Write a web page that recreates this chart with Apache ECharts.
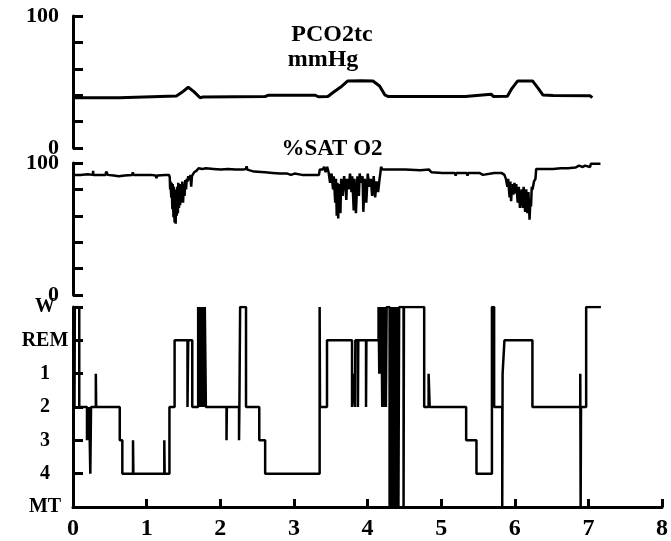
<!DOCTYPE html>
<html>
<head>
<meta charset="utf-8">
<script src="https://cdn.jsdelivr.net/npm/echarts@6/dist/echarts.min.js"></script>
<style>
html, body { margin: 0; padding: 0; background: #fff; }
#chart { width: 671px; height: 541px; }
</style>
</head>
<body>
<div id="chart"></div>
<script>
// hours of recording
var hourTicks = [0, 1, 2, 3, 4, 5, 6, 7, 8];

// transcutaneous PCO2 (mmHg)
var pco2Hours = [0, 0.63, 0.65, 1.40, 1.47, 1.56, 1.64, 1.72, 1.76, 2.60, 2.65, 3.28, 3.32, 3.45, 3.52, 3.62, 3.72, 3.90, 4.06, 4.15, 4.22, 4.27, 4.80, 5.31, 5.33, 5.66, 5.69, 5.88, 5.94, 6.02, 6.22, 6.30, 6.36, 6.50, 7.00, 7.03];
var pco2Values = [38.1, 38.1, 39.2, 39.4, 42, 46, 42.5, 38.1, 38.6, 39, 40, 40, 38.8, 39, 42, 46, 50.8, 51, 50.8, 47, 40.3, 39, 39, 39, 40.5, 40.8, 39, 39.2, 45, 50.8, 50.8, 45, 40.2, 39.8, 39.5, 38.1];

// oxygen saturation (%)
var satHours = [
    0, 0.10, 0.20, 0.27, 0.272, 0.275, 0.35, 0.44, 0.45, 0.46, 0.47, 0.55, 0.62, 0.70, 0.80, 0.81, 0.82, 0.95, 1.05, 1.12, 1.13, 1.14, 1.25, 1.30,
    1.31, 1.315, 1.32, 1.33, 1.335, 1.345, 1.35, 1.36, 1.365, 1.375, 1.38, 1.39, 1.395, 1.405, 1.41, 1.42, 1.425, 1.435, 1.44, 1.45, 1.46, 1.47, 1.48, 1.49, 1.50, 1.51, 1.52, 1.53, 1.54, 1.55, 1.56, 1.58, 1.59, 1.60, 1.61, 1.63, 1.64, 1.67, 1.70, 1.75, 1.80,
    1.90, 2.00, 2.10, 2.20, 2.30, 2.34, 2.35, 2.36, 2.45, 2.60, 2.70, 2.80, 2.90, 2.95, 3.00, 3.10, 3.20, 3.30, 3.33, 3.34, 3.38, 3.40, 3.42, 3.44, 3.46,
    3.48, 3.50, 3.52, 3.53, 3.55, 3.56, 3.57, 3.58, 3.59, 3.60, 3.62, 3.63, 3.65, 3.67, 3.69, 3.70, 3.71, 3.73, 3.75, 3.77, 3.78, 3.80, 3.81, 3.83, 3.85, 3.87, 3.88, 3.90, 3.92, 3.93, 3.95, 3.97, 3.99, 4.01, 4.03, 4.05, 4.07, 4.09, 4.11, 4.13, 4.15, 4.16, 4.17, 4.19,
    4.30, 4.50, 4.70, 4.82, 4.85, 5.00, 5.17, 5.18, 5.19, 5.33, 5.34, 5.35, 5.50, 5.55, 5.56, 5.70, 5.80, 5.84, 5.86,
    5.88, 5.89, 5.91, 5.92, 5.93, 5.945, 5.96, 5.975, 5.99, 6.00, 6.02, 6.035, 6.05, 6.06, 6.075, 6.09, 6.10, 6.12, 6.135, 6.15, 6.165, 6.18, 6.19, 6.20, 6.21, 6.22, 6.24, 6.26, 6.27,
    6.40, 6.50, 6.60, 6.70, 6.80, 6.85, 6.86, 6.90, 6.93, 6.95, 7.00, 7.01, 7.14
];
var satValues = [
    91, 91, 91.5, 91, 94, 91, 91, 91, 93.5, 92, 91, 90.5, 90, 90.5, 91, 93, 91, 91, 91, 90.5, 88.5, 90.5, 91, 91,
    89, 80, 86, 74, 85, 65, 84, 59, 82, 55, 80, 54, 78, 60, 82, 62, 85, 66, 80, 68, 84, 70, 86, 70, 84, 75, 87, 80, 88, 86, 90, 87, 91, 82, 90, 90, 93, 94, 96, 95.5, 96,
    95.5, 95, 95.5, 95, 95, 95.5, 97.5, 95, 93.5, 93, 92.5, 92, 92, 91, 92, 91, 91, 91, 91, 95, 95, 97, 93, 97, 93,
    85, 92, 80, 90, 70, 88, 60, 85, 58, 84, 62, 88, 75, 90, 80, 72, 88, 80, 92, 78, 90, 64, 88, 62, 90, 75, 92, 85, 90, 63, 88, 70, 92, 82, 88, 75, 90, 74, 86, 78, 88, 92, 97, 95,
    95, 95, 94.5, 95, 93, 92.5, 92.5, 90.5, 92.5, 92.5, 90.5, 92.5, 92.5, 91, 92.5, 92.5, 92.5, 91, 88,
    82, 88, 74, 86, 71, 84, 76, 85, 77, 84, 70, 82, 66, 64.5, 80, 66, 82, 63, 80, 62, 78, 57, 70, 67, 82, 80, 86, 88, 95.5,
    95.5, 95.5, 96, 96, 96.5, 98, 96.5, 97, 98, 96.5, 97, 99.5, 99.5
];

// sleep stages, bottom to top
var stageLabels = ['MT', '4', '3', '2', '1', 'REM', 'W'];

// hypnogram: time each stage starts (last entry closes the record)
var hypnoHours = [
    0.02, 0.025, 0.085, 0.19, 0.20, 0.21, 0.22, 0.235, 0.245, 0.31, 0.315, 0.635, 0.67, 0.815, 0.82, 1.24, 1.245, 1.31,
    1.38, 1.555, 1.565, 1.62, 1.70, 1.715, 1.73, 1.745, 1.76, 1.775, 1.79, 1.805, 2.085, 2.09, 2.255, 2.26, 2.27, 2.35, 2.53, 2.61,
    3.35, 3.355, 3.45, 3.79, 3.815, 3.83, 3.835, 3.87, 3.875, 3.98, 3.985,
    4.15, 4.16, 4.17, 4.18, 4.19, 4.20, 4.21, 4.22, 4.235, 4.25, 4.26,
    4.30, 4.31, 4.32, 4.33, 4.34, 4.35, 4.36, 4.37, 4.38, 4.39, 4.40, 4.41, 4.42, 4.43, 4.49, 4.495,
    4.77, 4.83, 4.845, 5.34, 5.48, 5.69, 5.72, 5.83, 5.835, 5.86, 6.24, 6.89, 6.895, 6.90, 6.97, 7.17
];
var hypnoStages = [
    '2', 'W', '2', '3', '2', '3', '2', '4', '2', '1', '2', '3', '4', '3', '4', '3', '4', '2',
    'REM', '2', 'REM', '2', 'W', '2', 'W', '2', 'W', '2', 'W', '2', '3', '2', '3', '2', 'W', '2', '3', '4',
    'W', '2', 'REM', '2', '1', '2', 'REM', '2', 'REM', '2', 'REM',
    'W', '1', 'W', '1', 'W', '2', 'W', '2', 'W', '2', 'W',
    'MT', 'W', 'MT', 'W', 'MT', 'W', 'MT', 'W', 'MT', 'W', 'MT', 'W', 'MT', 'W', 'MT', 'W',
    '2', '1', '2', '3', '4', 'W', '2', 'MT', '1', 'REM', '2', '1', 'MT', '2', 'W', 'W'
];

var serif = 'Liberation Serif';
var black = '#000';

function pairs(xs, ys) {
    return xs.map(function (x, i) { return [x, ys[i]]; });
}

function hiddenX(idx) {
    return {
        type: 'value', gridIndex: idx, min: 0, max: 8, interval: 1, show: false
    };
}

function percentY(idx) {
    return {
        type: 'value', gridIndex: idx, min: 0, max: 100, interval: 20,
        axisLine: {show: true, lineStyle: {color: black, width: 3}},
        axisTick: {show: true, inside: true, length: 10, lineStyle: {color: black, width: 3}},
        splitLine: {show: false},
        axisLabel: {
            margin: 14, color: black, fontFamily: serif, fontWeight: 'bold', fontSize: 22,
            formatter: function (v) { return (v === 0 || v === 100) ? String(v) : ''; }
        }
    };
}

var chart = echarts.init(document.getElementById('chart'));

var option = {
    animation: false,
    backgroundColor: '#fff',
    grid: [
        {left: 73, width: 591, top: 16, height: 132},
        {left: 73, width: 591, top: 163, height: 132},
        {left: 73, width: 591, top: 307, height: 201}
    ],
    xAxis: [
        hiddenX(0),
        hiddenX(1),
        {
            type: 'value', gridIndex: 2, min: hourTicks[0], max: hourTicks[hourTicks.length - 1], interval: 1,
            axisLine: {show: true, lineStyle: {color: black, width: 3}},
            axisTick: {show: true, inside: true, length: 8, lineStyle: {color: black, width: 3}},
            splitLine: {show: false},
            axisLabel: {
                margin: 10, color: black, fontFamily: serif, fontWeight: 'bold', fontSize: 24,
                showMinLabel: true, showMaxLabel: true
            }
        }
    ],
    yAxis: [
        percentY(0),
        percentY(1),
        {
            type: 'value', gridIndex: 2, min: 0, max: stageLabels.length - 1, interval: 1,
            axisLine: {show: true, lineStyle: {color: black, width: 3}},
            axisTick: {show: true, inside: true, length: 10, lineStyle: {color: black, width: 3}},
            splitLine: {show: false},
            axisLabel: {
                margin: 28, align: 'center', color: black, fontFamily: serif, fontWeight: 'bold', fontSize: 20,
                formatter: function (v) { return stageLabels[v] || ''; }
            }
        }
    ],
    graphic: [
        {type: 'text', x: 332, y: 35, style: {text: 'PCO2tc', textAlign: 'center', textVerticalAlign: 'middle', font: 'bold 24px "Liberation Serif"', fill: black}},
        {type: 'text', x: 323, y: 60, style: {text: 'mmHg', textAlign: 'center', textVerticalAlign: 'middle', font: 'bold 24px "Liberation Serif"', fill: black}},
        {type: 'text', x: 332, y: 149, style: {text: '%SAT O2', textAlign: 'center', textVerticalAlign: 'middle', font: 'bold 23px "Liberation Serif"', fill: black}}
    ],
    series: [
        {
            name: 'PCO2tc', type: 'line', xAxisIndex: 0, yAxisIndex: 0,
            data: pairs(pco2Hours, pco2Values),
            symbol: 'none', lineStyle: {color: black, width: 3}
        },
        {
            name: '%SAT O2', type: 'line', xAxisIndex: 1, yAxisIndex: 1,
            data: pairs(satHours, satValues),
            symbol: 'none', lineStyle: {color: black, width: 2.5}
        },
        {
            name: 'Stage', type: 'line', xAxisIndex: 2, yAxisIndex: 2, step: 'end',
            data: pairs(hypnoHours, hypnoStages.map(function (s) { return stageLabels.indexOf(s); })),
            symbol: 'none', lineStyle: {color: black, width: 2.5}
        }
    ]
};

chart.setOption(option);
</script>
</body>
</html>
